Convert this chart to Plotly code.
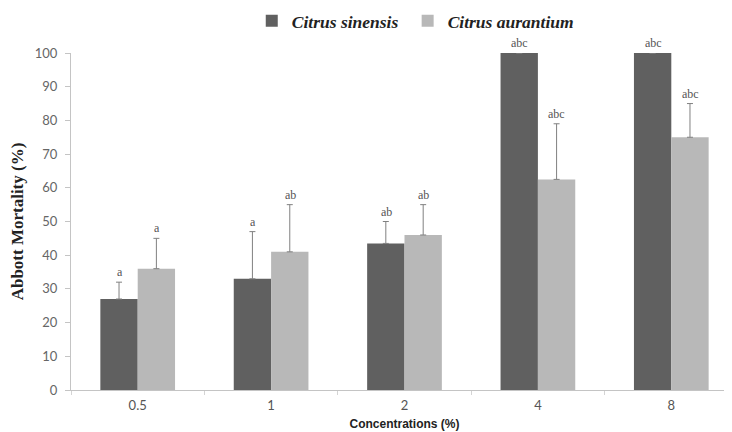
import plotly.graph_objects as go

categories = ["0.5", "1", "2", "4", "8"]
sinensis = [27, 33, 43.5, 100, 100]
sinensis_err = [5, 14, 6.5, 0, 0]
aurantium = [36, 41, 46, 62.5, 75]
aurantium_err = [9, 14, 9, 16.5, 10]
sinensis_lbl = ["a", "a", "ab", "abc", "abc"]
aurantium_lbl = ["a", "ab", "ab", "abc", "abc"]

fig = go.Figure()
fig.add_trace(go.Bar(
    name="<b><i>Citrus sinensis</i></b>&nbsp;", x=categories, y=sinensis,
    marker=dict(color="#606060", line=dict(width=0)),
    error_y=dict(type="data", array=sinensis_err, symmetric=False, arrayminus=[0]*5,
                 color="#808080", thickness=1, width=3),
))
fig.add_trace(go.Bar(
    name="<b><i>Citrus aurantium</i></b>", x=categories, y=aurantium,
    marker=dict(color="#b8b8b8", line=dict(width=0)),
    error_y=dict(type="data", array=aurantium_err, symmetric=False, arrayminus=[0]*5,
                 color="#808080", thickness=1, width=3),
))

for i, (v, e, t) in enumerate(zip(sinensis, sinensis_err, sinensis_lbl)):
    fig.add_annotation(x=i, y=v + e, text=t, showarrow=False, xshift=-18, yshift=10,
                       font=dict(family="Liberation Serif", size=12, color="#555555"))
for i, (v, e, t) in enumerate(zip(aurantium, aurantium_err, aurantium_lbl)):
    fig.add_annotation(x=i, y=v + e, text=t, showarrow=False, xshift=19, yshift=10,
                       font=dict(family="Liberation Serif", size=12, color="#555555"))

fig.update_layout(
    width=732, height=432,
    margin=dict(l=63, r=2, t=45, b=50, autoexpand=False),
    paper_bgcolor="white", plot_bgcolor="white",
    barmode="group", bargap=0.44, bargroupgap=0,
    showlegend=True,
    legend=dict(orientation="h", x=0.271, y=1.095, xanchor="left", yanchor="middle",
                font=dict(family="Liberation Serif", size=17.5, color="#222222"),
                itemwidth=30, traceorder="normal"),
    xaxis=dict(
        type="category", range=[-0.5, 4.5],
        title=dict(text="<b>Concentrations (%)</b>", font=dict(family="Liberation Sans", size=12, color="#222222"),
                   standoff=8),
        showline=True, linecolor="#c4c4c4", linewidth=1,
        ticks="outside", tickson="boundaries", ticklen=4, tickcolor="#d4d4d4",
        ticklabelstandoff=3,
        tickfont=dict(family="Lato", size=13, color="#555555"),
        showgrid=False,
    ),
    yaxis=dict(
        title=dict(text="<b>Abbott Mortality (%)</b>", font=dict(family="Liberation Serif", size=17, color="#222222"),
                   standoff=9),
        range=[0, 100], dtick=10,
        showline=True, linecolor="#c4c4c4", linewidth=1,
        ticks="outside", ticklen=5, tickcolor="#c4c4c4", ticklabelstandoff=5,
        tickfont=dict(family="Lato", size=13, color="#666666"),
        showgrid=False, zeroline=False,
    ),
)

fig.write_html("out.html")
